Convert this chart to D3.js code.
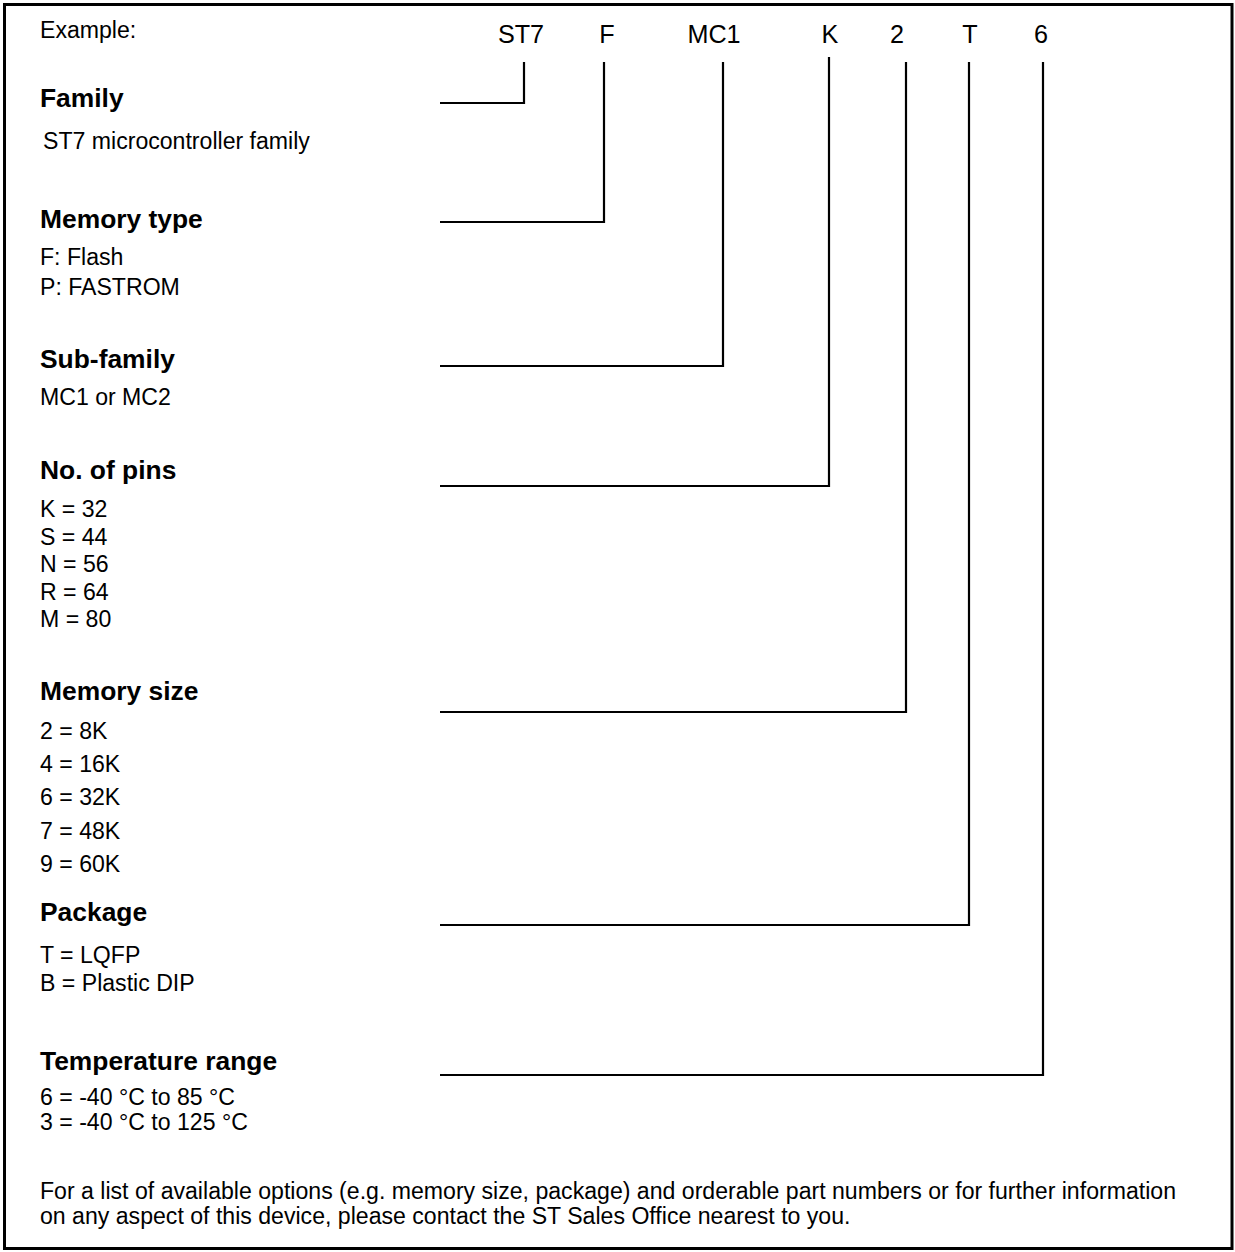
<!DOCTYPE html>
<html>
<head>
<meta charset="utf-8">
<script src="https://cdn.jsdelivr.net/npm/d3@7"></script>
<style>
  html, body { margin: 0; padding: 0; background: #fff; }
  svg { display: block; }
  text { font-family: "Liberation Sans", Arial, Helvetica, sans-serif; fill: #000; }
</style>
</head>
<body>
<svg id="chart" width="1235" height="1252"></svg>
<script>
// ---------- data ----------
const exampleLabel = "Example:";
const codeSegments = ["ST7", "F", "MC1", "K", "2", "T", "6"];
const fieldNames = ["Family", "Memory type", "Sub-family", "No. of pins", "Memory size", "Package", "Temperature range"];
const familyOptions = ["ST7 microcontroller family"];
const memoryTypeOptions = ["F: Flash", "P: FASTROM"];
const subFamilyOptions = ["MC1 or MC2"];
const pinOptions = ["K = 32", "S = 44", "N = 56", "R = 64", "M = 80"];
const memorySizeOptions = ["2 = 8K", "4 = 16K", "6 = 32K", "7 = 48K", "9 = 60K"];
const packageOptions = ["T = LQFP", "B = Plastic DIP"];
const temperatureOptions = ["6 = -40 °C to 85 °C", "3 = -40 °C to 125 °C"];
const fieldOptions = [familyOptions, memoryTypeOptions, subFamilyOptions, pinOptions,
                      memorySizeOptions, packageOptions, temperatureOptions];
const footnoteLines = [
  "For a list of available options (e.g. memory size, package) and orderable part numbers or for further information",
  "on any aspect of this device, please contact the ST Sales Office nearest to you."
];

// ---------- layout ----------
const svg = d3.select("#chart");
const textX = 40;
const connectorStartX = 440;
const bodySize = 23.1, headSize = 26.4, codeSize = 25.2;
// x of each connector's vertical line, and centre of each code label
const segX = d3.scaleOrdinal().domain(d3.range(codeSegments.length))
  .range([524, 604, 723, 829, 906, 969, 1043]);
const labelX = d3.scaleOrdinal().domain(d3.range(codeSegments.length))
  .range([521, 607, 714, 830, 897, 970, 1041]);
const lineTopY = [62, 62, 62, 57, 62, 62, 62];
const headingY = [107, 228, 368, 479, 700, 921, 1070];
const connectorY = [103, 222, 366, 486, 712, 925, 1075];
const itemStartY = [149, 265, 405, 517, 739, 963, 1105];
const itemStep = [30, 30, 30, 27.5, 33.2, 28, 25];
const itemIndent = [43, 40, 40, 40, 40, 40, 40];
const footnoteY = [1199, 1224];

// frame
svg.append("rect")
  .attr("x", 4.5).attr("y", 4.5)
  .attr("width", 1227.5).attr("height", 1244)
  .attr("fill", "none").attr("stroke", "#000").attr("stroke-width", 3);

// example label
svg.append("text")
  .attr("x", textX).attr("y", 38)
  .attr("font-size", bodySize)
  .text(exampleLabel);

// code segments
svg.selectAll("text.code").data(codeSegments).join("text")
  .attr("class", "code")
  .attr("x", (d, i) => labelX(i)).attr("y", 43)
  .attr("text-anchor", "middle")
  .attr("font-size", codeSize)
  .text(d => d);

// connectors
svg.selectAll("path.conn").data(codeSegments).join("path")
  .attr("class", "conn")
  .attr("d", (d, i) => `M${connectorStartX},${connectorY[i]}H${segX(i)}V${lineTopY[i]}`)
  .attr("fill", "none").attr("stroke", "#000").attr("stroke-width", 2.2);

// headings
svg.selectAll("text.head").data(fieldNames).join("text")
  .attr("class", "head")
  .attr("x", textX).attr("y", (d, i) => headingY[i])
  .attr("font-size", headSize).attr("font-weight", "bold")
  .text(d => d);

// options
fieldOptions.forEach((opts, i) => {
  svg.selectAll(`text.opt${i}`).data(opts).join("text")
    .attr("class", `opt${i}`)
    .attr("x", itemIndent[i])
    .attr("y", (d, j) => itemStartY[i] + j * itemStep[i])
    .attr("font-size", bodySize)
    .text(d => d);
});

// footnote
svg.selectAll("text.foot").data(footnoteLines).join("text")
  .attr("class", "foot")
  .attr("x", textX).attr("y", (d, i) => footnoteY[i])
  .attr("font-size", bodySize)
  .text(d => d);
</script>
</body>
</html>
